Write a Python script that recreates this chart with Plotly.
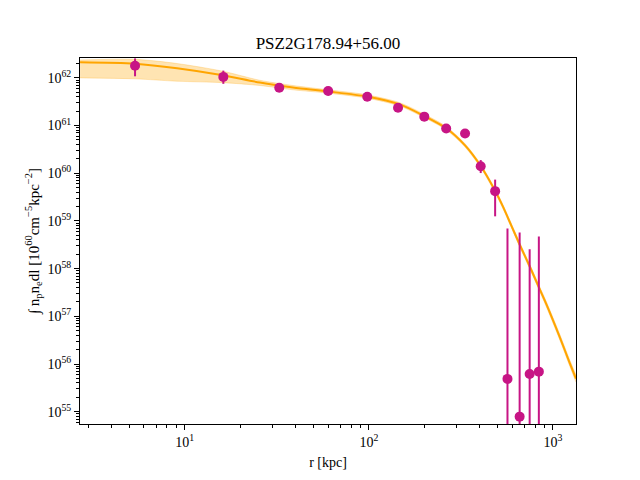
import plotly.graph_objects as go

# ---- data ----
r_data = [5.37, 16.2, 32.6, 60.1, 98, 144, 200, 263, 333, 405, 485, 566, 659, 747, 838]
y_data = [1.80e62, 1.05e62, 6.19e61, 5.31e61, 4.02e61, 2.37e61, 1.54e61, 8.66e60,
          6.84e60, 1.40e60, 4.22e59, 4.87e55, 7.87e54, 6.17e55, 6.92e55]
y_hi = [2.56e62, 1.42e62, 6.19e61, 5.31e61, 4.02e61, 2.37e61, 1.54e61, 8.66e60,
        6.84e60, 1.89e60, 7.36e59, 6.92e58, 5.70e58, 2.56e58, 4.71e58]
y_lo = [1.08e62, 7.50e61, 6.19e61, 5.31e61, 4.02e61, 2.37e61, 1.54e61, 8.66e60,
        6.84e60, 1.01e60, 1.25e59, 1e50, 1e50, 1e50, 1e50]

r_model = [2.70, 5.37, 9.08, 16.1, 25.6, 38.7, 60.0, 97.5, 147, 199, 263, 332, 405,
           485, 535, 594, 659, 747, 847, 920, 1087, 1232, 1333]
m_mid = [2.13e62, 1.99e62, 1.60e62, 1.14e62, 7.98e61, 6.28e61, 5.19e61, 4.07e61,
         2.78e61, 1.60e61, 8.79e60, 3.89e60, 1.42e60, 4.28e59, 1.99e59, 7.98e58,
         3.21e58, 1.12e58, 3.71e57, 1.80e57, 3.71e56, 1.06e56, 4.94e55]
m_hi = [2.37e62, 2.45e62, 2.00e62, 1.38e62, 8.91e61, 6.92e61, 5.62e61, 4.42e61,
        3.02e61, 1.74e61, 9.55e60, 4.22e60, 1.55e60, 4.68e59, 2.19e59, 8.81e58,
        3.55e58, 1.24e58, 4.17e57, 2.04e57, 4.27e56, 1.23e56, 5.89e55]
m_lo = [1.00e62, 9.55e61, 8.51e61, 7.94e61, 6.92e61, 5.62e61, 4.79e61, 3.76e61,
        2.57e61, 1.48e61, 8.13e60, 3.59e60, 1.30e60, 3.89e59, 1.80e59, 7.24e58,
        2.88e58, 1.00e58, 3.31e57, 1.58e57, 3.24e56, 9.12e55, 4.17e55]

x_tick_vals = [10, 100, 1000]
x_tick_text = ["10<sup>1</sup>", "10<sup>2</sup>", "10<sup>3</sup>"]
y_exps = [55, 56, 57, 58, 59, 60, 61, 62]
y_tick_vals = [10.0 ** e for e in y_exps]
y_tick_text = ["10<sup>%d</sup>" % e for e in y_exps]

title = "PSZ2G178.94+56.00"
xlabel = "r [kpc]"
ylabel = "∫ n<sub>p</sub>n<sub>e</sub>dl [10<sup>60</sup>cm<sup>−5</sup>kpc<sup>−2</sup>]"

MAG = "#C71585"
ORANGE = "#FFA500"
FONT = "Liberation Serif"

x_minor = [m * 10.0 ** d for d in range(0, 4) for m in range(2, 10)]
y_minor = [m * 10.0 ** d for d in range(54, 63) for m in range(2, 10)]

fig = go.Figure()
fig.add_trace(go.Scatter(x=r_model, y=m_lo, mode="lines",
                         line=dict(width=0.8, color="rgba(255,165,0,0.3)", shape="spline", smoothing=0.8),
                         hoverinfo="skip", showlegend=False))
fig.add_trace(go.Scatter(x=r_model, y=m_hi, mode="lines",
                         line=dict(width=0.8, color="rgba(255,165,0,0.3)", shape="spline", smoothing=0.8),
                         fill="tonexty", fillcolor="rgba(255,165,0,0.3)", showlegend=False))
fig.add_trace(go.Scatter(x=r_model, y=m_mid, mode="lines",
                         line=dict(width=2, color=ORANGE, shape="spline", smoothing=0.8),
                         showlegend=False))
fig.add_trace(go.Scatter(
    x=r_data, y=y_data, mode="markers",
    marker=dict(size=10, color=MAG),
    error_y=dict(type="data", symmetric=False,
                 array=[h - v for h, v in zip(y_hi, y_data)],
                 arrayminus=[v - l for v, l in zip(y_data, y_lo)],
                 color=MAG, thickness=2, width=0),
    showlegend=False))

axis_common = dict(type="log", showgrid=False, zeroline=False, showline=True, mirror=True,
                   linecolor="black", linewidth=1, ticks="outside", ticklen=5, tickwidth=1,
                   tickcolor="black", tickfont=dict(family=FONT, size=14, color="black"))

fig.update_xaxes(range=[0.431, 3.125], tickmode="array", tickvals=x_tick_vals, ticktext=x_tick_text,
                 minor=dict(tickmode="array", tickvals=x_minor, ticks="outside", ticklen=3,
                            tickwidth=1, tickcolor="black", showgrid=False),
                 title=dict(text=xlabel, font=dict(family=FONT, size=14, color="black"), standoff=8),
                 **axis_common)
fig.update_yaxes(range=[54.742, 62.417], tickmode="array", tickvals=y_tick_vals, ticktext=y_tick_text,
                 minor=dict(tickmode="array", tickvals=y_minor, ticks="outside", ticklen=3,
                            tickwidth=1, tickcolor="black", showgrid=False),
                 title=dict(text=ylabel, font=dict(family=FONT, size=15, color="black"), standoff=4),
                 **axis_common)

fig.update_layout(
    width=640, height=480,
    margin=dict(l=80, r=64, t=58, b=53),
    paper_bgcolor="white", plot_bgcolor="white",
    title=dict(text=title, x=328 / 640, xanchor="center", y=1 - 43 / 480, yanchor="middle",
               font=dict(family=FONT, size=17, color="black")),
    showlegend=False,
)

fig.write_html("out.html")
